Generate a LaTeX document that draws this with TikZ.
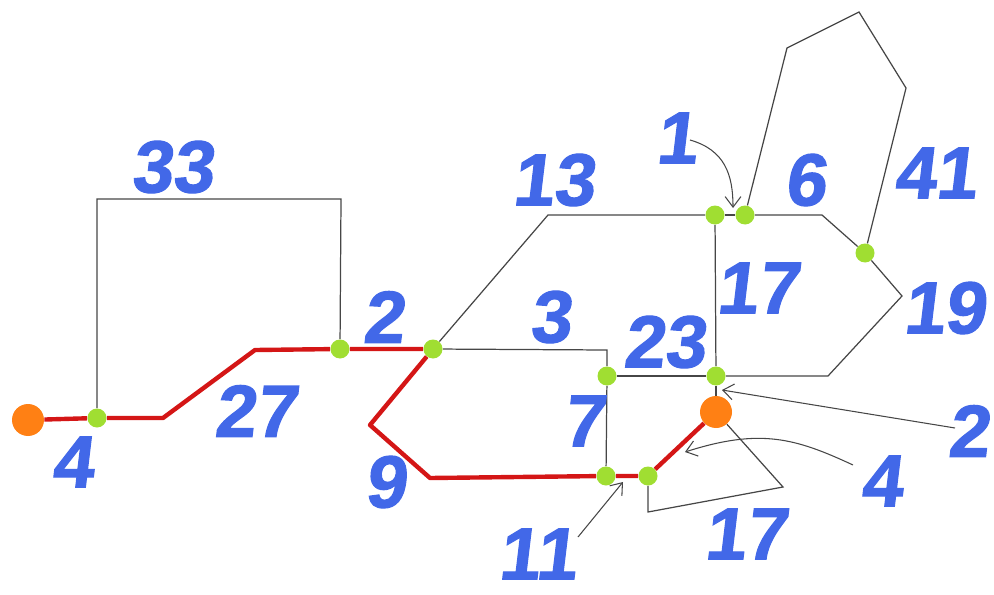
\documentclass[tikz,border=0pt]{standalone}
\usepackage{fontspec}
\usepackage{tikz}
\usetikzlibrary{arrows.meta}
\newfontfamily\numfont[FakeSlant=0.12,FakeBold=1.5]{Liberation Sans}
\tikzset{
  junc/.style   ={circle, fill=juncgreen, inner sep=0pt, minimum size=0.38cm},
  term/.style   ={circle, fill=termorange, inner sep=0pt, minimum size=0.64cm},
  route/.style  ={draw=routered, line width=2.5pt, line join=round},
  link/.style   ={draw=linkgray, line width=0.7pt},
  pointer/.style={-{Straight Barb[length=6pt,width=9pt]}, draw=linkgray, line width=0.6pt},
  weight/.style ={text=numblue, inner sep=0pt,
                  font=\numfont\bfseries\fontsize{42}{42}\selectfont},
}
\definecolor{juncgreen} {RGB}{160,222,50}
\definecolor{termorange}{RGB}{255,128,20}
\definecolor{routered}  {RGB}{212,22,22}
\definecolor{linkgray}  {RGB}{70,70,70}
\definecolor{numblue}   {RGB}{66,104,232}

\begin{document}
\begin{tikzpicture}[x=0.02cm,y=-0.02cm]
  \useasboundingbox (0,0) rectangle (994,595);
  % junctions and terminals
  \node[term] (o1) at (28,420) {};
  \node[term] (o2) at (716,412) {};
  \node[junc] (jA) at (97,418) {};
  \node[junc] (jB) at (340,349) {};
  \node[junc] (jC) at (433,349) {};
  \node[junc] (jD) at (606,476) {};
  \node[junc] (jE) at (648,476) {};
  \node[junc] (jG) at (715,215) {};
  \node[junc] (jH) at (745,215) {};
  \node[junc] (jI) at (865,253) {};
  \node[junc] (jJ) at (716,376) {};
  \node[junc] (jK) at (607,376) {};
  % bends
  \coordinate (r1) at (163,418);
  \coordinate (r2) at (255,350);
  \coordinate (r3) at (370,425);
  \coordinate (r4) at (430,478);
  \coordinate (b1) at (97,199);
  \coordinate (b2) at (341,199);
  \coordinate (b3) at (548,215);
  \coordinate (b4) at (822,215);
  \coordinate (b5) at (902,296);
  \coordinate (b6) at (828,376);
  \coordinate (b7) at (607,350);
  \coordinate (p1) at (787,48);
  \coordinate (p2) at (859,12);
  \coordinate (p3) at (906,88);
  \coordinate (q1) at (648,512);
  \coordinate (q2) at (783,487);
  % grey links
  \draw[link] (jA) -- (b1) -- (b2) -- (jB);
  \draw[link] (jC) -- (b3) -- (jG);
  \draw[link] (jG) -- (jH);
  \draw[link] (jH) -- (b4) -- (jI);
  \draw[link] (jI) -- (b5) -- (b6) -- (jJ);
  \draw[link] (jG) -- (jJ);
  \draw[link] (jC) -- (b7) -- (jK);
  \draw[link] (jK) -- (jJ);
  \draw[link] (jK) -- (jD);
  \draw[link] (jJ) -- (o2);
  \draw[link] (jH) -- (p1) -- (p2) -- (p3) -- (jI);
  \draw[link] (jE) -- (q1) -- (q2) -- (o2);
  % red route
  \draw[route] (o1) -- (jA) -- (r1) -- (r2) -- (jB) -- (jC) -- (r3) -- (r4) -- (jD) -- (jE) -- (o2);
  % weights
  \node[weight] (l33)  at (172,167) {33};
  \node[weight] (l2a)  at (383,317) {2};
  \node[weight] (l27)  at (255,411) {27};
  \node[weight] (l4a)  at (72,462)  {4};
  \node[weight] (l9)   at (385,482) {9};
  \node[weight] (l13)  at (553,180) {13};
  \node[weight] (l1)   at (676,138) {1};
  \node[weight] (l6)   at (805,180) {6};
  \node[weight] (l41)  at (935,173) {41};
  \node[weight] (l17a) at (757,288) {17};
  \node[weight] (l19)  at (944,308) {19};
  \node[weight] (l3)   at (550,317) {3};
  \node[weight] (l23)  at (664,342) {23};
  \node[weight] (l7)   at (583,421) {7};
  \node[weight] (l2b)  at (968,431) {2};
  \node[weight] (l4b)  at (881,481) {4};
  \node[weight] (l17b) at (745,534) {17};
  \node[weight] (l11)  at (537,554) {11};
  % pointers
  \coordinate (a1s) at (690,140);
  \coordinate (a1e) at (733,208);
  \coordinate (a2s) at (955,428);
  \coordinate (a2e) at (722,390);
  \coordinate (a4s) at (853,465);
  \coordinate (a4e) at (685,452);
  \coordinate (a11s) at (578,537);
  \coordinate (a11e) at (623,482);
  \draw[pointer] (a1s) .. controls (725,150) and (733,175) .. (a1e);
  \draw[pointer] (a2s) -- (a2e);
  \draw[pointer] (a4s) .. controls (795,438) and (760,428) .. (a4e);
  \draw[pointer] (a11s) -- (a11e);
\end{tikzpicture}
\end{document}
